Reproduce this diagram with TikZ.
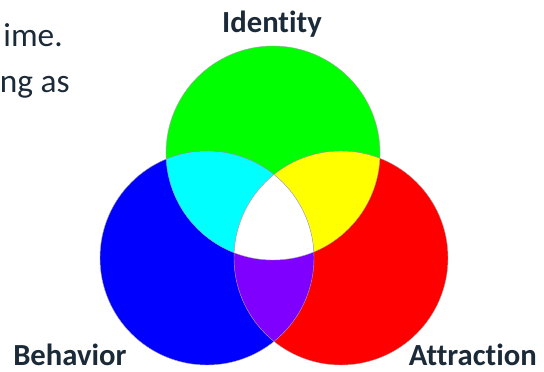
\documentclass[tikz,border=0pt]{standalone}
\usepackage{fontspec}
\setmainfont{Carlito}[Ligatures=NoCommon]
\usepackage{tikz}
\usetikzlibrary{positioning}
\definecolor{cgreen}{HTML}{00FF00}
\definecolor{cblue}{HTML}{0000FF}
\definecolor{cred}{HTML}{FF0000}
\definecolor{ccyan}{HTML}{00FFFF}
\definecolor{cyellow}{HTML}{FFFF00}
\definecolor{cviolet}{HTML}{8000FF}
\definecolor{cink}{HTML}{1B2A38}
\tikzset{
  lbl/.style={font=\fontsize{23}{28}\selectfont\bfseries, text=cink, inner sep=0pt},
  body/.style={font=\fontsize{25}{30}\selectfont, text=cink, inner sep=0pt},
  rim/.style={draw=black!35, line width=0.3pt},
}

\begin{document}
\begin{tikzpicture}[x=0.75pt,y=0.75pt]
\useasboundingbox (0,0) rectangle (544,372);
\def\circr{80.25pt}
\coordinate (g) at (273,219);
\coordinate (b) at (207,114);
\coordinate (r) at (341,114);
% the three discs
\fill[cgreen] (g) circle[radius=\circr];
\fill[cblue] (b) circle[radius=\circr];
\fill[cred] (r) circle[radius=\circr];
% overlaps
\begin{scope}
  \clip (g) circle[radius=\circr];
  \fill[ccyan] (b) circle[radius=\circr];
  \fill[cyellow] (r) circle[radius=\circr];
\end{scope}
\begin{scope}
  \clip (b) circle[radius=\circr];
  \fill[cviolet] (r) circle[radius=\circr];
  \clip (r) circle[radius=\circr];
  \fill[white] (g) circle[radius=\circr];
\end{scope}
\foreach \c in {g,b,r} \draw[rim] (\c) circle[radius=\circr];
% labels
\node[lbl, anchor=base] (identity) at (272,339) {Identity};
\node[lbl, anchor=base west] (behavior) at (13,6) {Behavior};
\node[lbl, anchor=base east] (attraction) at (537,6) {Attraction};
\node[body, anchor=base east] (lineone) at (63,325) {ime.};
\node[body, anchor=base east] (linetwo) at (70,279) {ng as};
\end{tikzpicture}
\end{document}
